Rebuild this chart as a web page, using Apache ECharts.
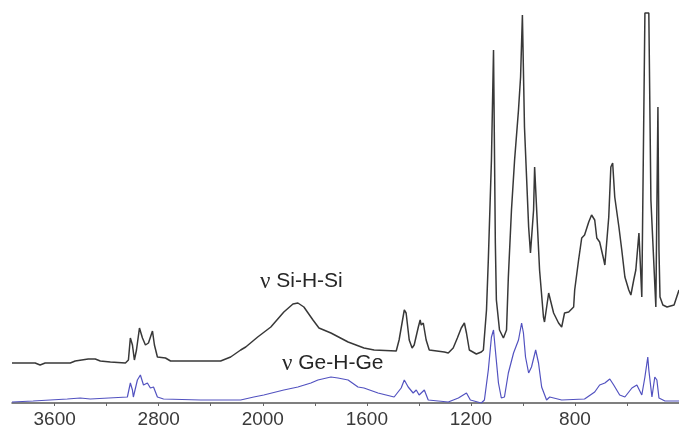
<!DOCTYPE html>
<html>
<head>
<meta charset="utf-8">
<title>IR spectra</title>
<script src="https://cdn.jsdelivr.net/npm/echarts@6/dist/echarts.min.js"></script>
<style>
  html, body { margin: 0; padding: 0; background: #fff; }
  #chart { width: 679px; height: 431px; }
</style>
</head>
<body>
<div id="chart"></div>
<script>
// Wavenumbers (cm-1) and absorbance (arbitrary units) for the Si-H-Si sample (upper trace)
const siWavenumbers = [3928, 3750, 3712, 3673, 3480, 3442, 3342, 3288, 3249, 3172, 3056, 3033, 3018, 3002, 2987, 2971, 2948, 2925, 2902, 2879, 2848, 2833, 2810, 2748, 2709, 2324, 2247, 2170, 2131, 2039,
  1969, 1919, 1884, 1865, 1842, 1807, 1784, 1738, 1672, 1611, 1572, 1487, 1476, 1456, 1449, 1437, 1426, 1418, 1402, 1395, 1391, 1383, 1372, 1360, 1302, 1287, 1268, 1252, 1237, 1225, 1217, 1206, 1179, 1160, 1152,
  1140, 1133, 1121, 1113, 1106, 1102, 1090, 1075, 1063, 1056, 1044, 1032, 1017, 1009, 1002, 994, 986, 978, 971, 959, 955, 944, 936, 921, 917, 901, 882, 863, 851, 840, 824, 805, 801, 786, 774, 763, 747, 736, 724, 716, 705, 689, 685,
  670, 662, 655, 647, 631, 620, 608, 593, 585, 574, 566, 554, 543, 539, 531, 516, 508, 489, 481, 477, 473, 462, 446, 419, 400];
const siAbsorbance = [10, 10, 9.5, 10, 10, 10.5, 11, 11, 10.5, 10.25, 10, 10.75, 16.25, 14.5, 10.75, 13.25, 18.75, 16.25, 14.5, 15, 18, 14.5, 11.5, 11.25, 10.5, 10.5, 11.5, 13.25, 14, 16.5,
  19, 22.75, 24.75, 25, 24, 20.75, 18.75, 17.5, 15.25, 13.75, 13.25, 13, 15.75, 23.25, 22.5, 15.75, 13.75, 14.5, 19, 20.75, 19.5, 20, 15.75, 13.25, 12.75, 12.5, 13.75, 16.25, 18.75, 20, 17.5, 13.25, 12.25, 12.75, 13.25,
  23.25, 35.75, 60.75, 88.25, 40, 25.75, 18.25, 16.25, 18.25, 31.5, 48.25, 60.75, 73.25, 81.5, 97, 69, 56.5, 44, 37.5, 48.25, 59, 44, 33.25, 21.5, 20.25, 27.5, 22.5, 20, 19, 22.5, 22.75, 24, 28.25, 35.75, 41.25, 42, 45.25, 47, 45.75, 41.25, 40.25, 35.75, 34.5,
  46.5, 59, 60, 51.5, 44, 38.25, 31.5, 28.25, 27, 30.75, 33.25, 42.5, 26.5, 50.75, 97.5, 97.5, 50.75, 24, 74, 38.25, 26.5, 24.5, 24, 24.5, 28.25];

// Wavenumbers (cm-1) and absorbance for the Ge-H-Ge sample (lower trace)
const geWavenumbers = [3928, 3766, 3503, 3403, 3326, 3041, 3018, 3002, 2995, 2964, 2941, 2917, 2887, 2864, 2840, 2810, 2763, 2478, 2170, 2069,
  1996, 1919, 1865, 1815, 1788, 1738, 1711, 1672, 1634, 1611, 1557, 1495, 1468, 1456, 1441, 1422, 1410, 1399, 1379, 1364, 1287, 1248, 1217, 1202, 1160, 1148,
  1133, 1121, 1113, 1106, 1094, 1083, 1071, 1056, 1036, 1017, 1005, 998, 990, 978, 967, 951, 940, 928, 909, 897, 890, 851, 763, 724, 705, 685, 666, 651, 628, 608,
  581, 562, 543, 531, 520, 516, 504, 493, 485, 477, 454, 400];
const geAbsorbance = [0.25, 0.5, 1, 1.25, 1, 1.5, 5, 3.25, 1.5, 5.75, 7, 4.5, 5, 3.75, 4, 1.5, 1, 0.75, 0.75, 1.5,
  2, 3.25, 4, 5, 5.75, 6.5, 6.25, 5.75, 4, 3.75, 2.5, 1.5, 3.75, 5.75, 4, 2.5, 3.25, 2, 3.25, 0.75, 0.25, 1.25, 2.5, 0.75, 0, 0.75,
  8.25, 16.5, 18.25, 13.25, 5, 1.25, 1.5, 7.5, 12.5, 15.75, 20, 17.5, 11.5, 7.5, 9, 13.25, 10, 4, 0.75, 1.5, 1.25, 0.75, 1, 2.75, 4.5, 5, 6, 4.5, 2, 1.5,
  3.75, 4.5, 2, 6.5, 11.5, 8.25, 1.5, 6.5, 5.75, 1.25, 0.5, 0.5];

// Axis ticks and labelled wavenumbers
const tickMarks = [3600, 3200, 2800, 2400, 2000, 1800, 1600, 1400, 1200, 1000, 800, 600];
const tickLabels = [3600, 2800, 2000, 1600, 1200, 800];
const axisMinWavenumber = 400;
const axisMaxWavenumber = 3928;

// Band assignments written on the plot
const bandLabels = ['Si-H-Si', 'Ge-H-Ge'];

// The region above 2000 cm-1 is drawn at half scale
const SPLIT = 2000;
function toAxis(w) { return w <= SPLIT ? w : SPLIT + (w - SPLIT) / 2; }
function fromAxis(u) { return u <= SPLIT ? u : SPLIT + (u - SPLIT) * 2; }

function pairs(xs, ys) { return xs.map((w, i) => [toAxis(w), ys[i]]); }

const chart = echarts.init(document.getElementById('chart'), null, { renderer: 'canvas' });

const bandTextStyle = {
  font: '21px "Liberation Sans", Arial, sans-serif',
  fill: '#262626',
  rich: { nu: { fontFamily: 'Liberation Serif', fontSize: 23, fill: '#262626' } }
};

chart.setOption({
  animation: false,
  backgroundColor: '#ffffff',
  grid: { left: 12, right: 0, top: 3, bottom: 28 },
  xAxis: {
    type: 'value',
    inverse: true,
    min: toAxis(axisMinWavenumber),
    max: toAxis(axisMaxWavenumber),
    splitLine: { show: false },
    axisLine: { show: true, onZero: false, lineStyle: { color: '#555', width: 1.5 } },
    axisTick: {
      show: true,
      length: 3,
      customValues: tickMarks.map(toAxis),
      lineStyle: { color: '#666', width: 1 }
    },
    axisLabel: {
      customValues: tickLabels.map(toAxis),
      formatter: (u) => String(Math.round(fromAxis(u))),
      color: '#3a3a3a',
      fontFamily: 'Liberation Sans, Arial, sans-serif',
      fontSize: 19,
      margin: 7
    }
  },
  yAxis: {
    type: 'value',
    min: 0,
    max: 100,
    show: false
  },
  series: [
    {
      name: 'Si-H-Si',
      type: 'line',
      data: pairs(siWavenumbers, siAbsorbance),
      showSymbol: false,
      clip: true,
      lineStyle: { color: '#383838', width: 1.5 }
    },
    {
      name: 'Ge-H-Ge',
      type: 'line',
      data: pairs(geWavenumbers, geAbsorbance),
      showSymbol: false,
      clip: true,
      lineStyle: { color: '#5252c0', width: 1.2 }
    }
  ],
  graphic: [
    {
      type: 'text',
      left: 260,
      top: 270,
      style: Object.assign({ text: '{nu|ν} ' + bandLabels[0] }, bandTextStyle)
    },
    {
      type: 'text',
      left: 282,
      top: 352,
      style: Object.assign({ text: '{nu|ν} ' + bandLabels[1] }, bandTextStyle)
    }
  ]
});
</script>
</body>
</html>
